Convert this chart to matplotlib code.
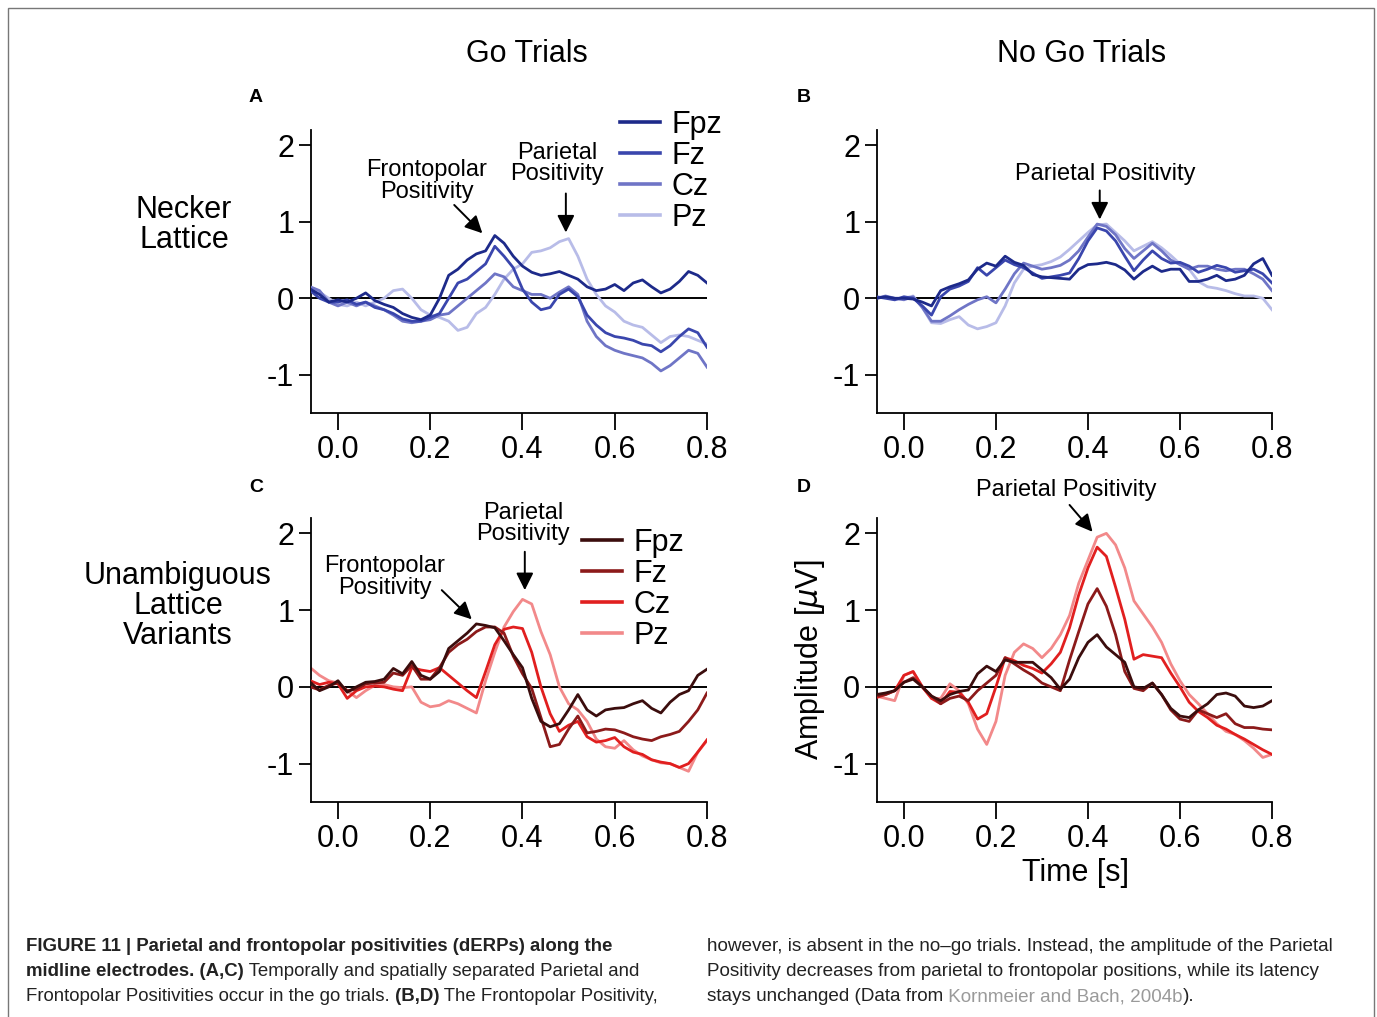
import numpy as np
import matplotlib
matplotlib.use('Agg')
import matplotlib.pyplot as plt
from matplotlib import font_manager as fm
from matplotlib.lines import Line2D
from matplotlib.patches import Rectangle

plt.rcParams['font.family'] = ['Liberation Sans', 'DejaVu Sans']
plt.rcParams['axes.unicode_minus'] = False

# ---------------- data ----------------
time_s = np.round(np.arange(-0.06, 0.8001, 0.02), 2)
electrodes = ['Fpz', 'Fz', 'Cz', 'Pz']
blue_colors = ['#1d2a8a', '#3a46ad', '#6f75c6', '#b8bce8']
red_colors = ['#3b0d0d', '#8c1a1a', '#e11f1f', '#f2898a']

xtick_vals = [0.0, 0.2, 0.4, 0.6, 0.8]
xtick_labels = ['0.0', '0.2', '0.4', '0.6', '0.8']
ytick_vals = [-1, 0, 1, 2]
ytick_labels = ['-1', '0', '1', '2']

# Panel A: Go trials, Necker lattice
a_fpz = [0.12, 0.05, -0.05, -0.02, -0.05, 0.00, 0.07, -0.03, -0.08, -0.12,
         -0.20, -0.25, -0.28, -0.22, 0.00, 0.30, 0.38, 0.50, 0.58, 0.62,
         0.82, 0.72, 0.55, 0.42, 0.34, 0.30, 0.32, 0.35, 0.30, 0.25,
         0.15, 0.10, 0.12, 0.18, 0.10, 0.20, 0.24, 0.15, 0.07, 0.12,
         0.22, 0.35, 0.30, 0.20]
a_fz = [0.10, 0.00, -0.05, -0.05, -0.02, -0.08, -0.05, -0.12, -0.15, -0.20,
        -0.27, -0.30, -0.30, -0.25, -0.20, 0.00, 0.20, 0.25, 0.35, 0.45,
        0.68, 0.55, 0.40, 0.12, -0.05, -0.15, -0.12, 0.05, 0.12, 0.02,
        -0.22, -0.35, -0.45, -0.50, -0.52, -0.55, -0.60, -0.62, -0.70, -0.62,
        -0.50, -0.40, -0.45, -0.64]
a_cz = [0.15, 0.10, -0.05, -0.10, -0.05, -0.10, -0.05, -0.10, -0.15, -0.22,
        -0.30, -0.32, -0.30, -0.28, -0.22, -0.20, -0.10, 0.00, 0.10, 0.20,
        0.32, 0.28, 0.15, 0.10, 0.05, 0.05, 0.00, 0.08, 0.15, 0.05,
        -0.30, -0.50, -0.62, -0.68, -0.72, -0.75, -0.78, -0.85, -0.95, -0.88,
        -0.78, -0.68, -0.72, -0.90]
a_pz = [0.12, 0.08, 0.00, -0.08, -0.10, -0.05, -0.10, -0.05, 0.00, 0.10,
        0.12, 0.00, -0.15, -0.22, -0.25, -0.30, -0.42, -0.38, -0.20, -0.12,
        0.05, 0.25, 0.38, 0.45, 0.60, 0.62, 0.66, 0.74, 0.78, 0.55,
        0.25, 0.05, -0.10, -0.18, -0.30, -0.35, -0.38, -0.48, -0.58, -0.50,
        -0.48, -0.50, -0.55, -0.60]

# Panel B: No-go trials, Necker lattice
b_fpz = [0.00, 0.02, 0.00, 0.00, -0.01, -0.05, -0.10, 0.10, 0.15, 0.19,
         0.24, 0.38, 0.46, 0.42, 0.55, 0.47, 0.43, 0.31, 0.28, 0.27,
         0.26, 0.25, 0.38, 0.44, 0.45, 0.47, 0.44, 0.37, 0.25, 0.35,
         0.42, 0.35, 0.38, 0.38, 0.22, 0.22, 0.25, 0.30, 0.23, 0.25,
         0.30, 0.45, 0.52, 0.30]
b_fz = [0.02, 0.00, -0.02, 0.02, 0.00, -0.10, -0.22, 0.02, 0.12, 0.16,
        0.22, 0.40, 0.30, 0.40, 0.50, 0.44, 0.40, 0.33, 0.26, 0.28,
        0.30, 0.33, 0.52, 0.75, 0.92, 0.88, 0.75, 0.55, 0.36, 0.50,
        0.62, 0.52, 0.46, 0.47, 0.42, 0.34, 0.38, 0.43, 0.40, 0.34,
        0.36, 0.38, 0.32, 0.20]
b_cz = [0.00, 0.03, 0.00, -0.02, 0.02, -0.12, -0.30, -0.30, -0.23, -0.15,
        -0.08, -0.02, 0.02, -0.06, 0.12, 0.32, 0.46, 0.42, 0.38, 0.40,
        0.43, 0.50, 0.62, 0.80, 0.97, 0.94, 0.83, 0.65, 0.52, 0.62,
        0.72, 0.62, 0.50, 0.44, 0.38, 0.42, 0.42, 0.38, 0.36, 0.38,
        0.38, 0.32, 0.25, 0.10]
b_pz = [0.00, 0.02, -0.02, 0.00, 0.03, -0.12, -0.32, -0.33, -0.28, -0.24,
        -0.35, -0.40, -0.37, -0.32, -0.10, 0.20, 0.38, 0.42, 0.44, 0.48,
        0.54, 0.64, 0.75, 0.86, 0.96, 0.97, 0.86, 0.75, 0.62, 0.68,
        0.74, 0.66, 0.56, 0.45, 0.38, 0.22, 0.15, 0.13, 0.10, 0.06,
        0.03, 0.03, 0.00, -0.15]

# Panel C: Go trials, unambiguous variants
c_fpz = [0.06, -0.05, 0.00, 0.08, -0.07, 0.00, 0.06, 0.07, 0.10, 0.24,
         0.17, 0.33, 0.15, 0.10, 0.20, 0.50, 0.60, 0.70, 0.82, 0.80,
         0.77, 0.60, 0.42, 0.25, -0.15, -0.45, -0.52, -0.48, -0.30, -0.10,
         -0.30, -0.38, -0.30, -0.28, -0.27, -0.22, -0.18, -0.28, -0.34, -0.20,
         -0.10, -0.05, 0.15, 0.23]
c_fz = [0.00, -0.04, 0.02, 0.05, -0.05, -0.03, 0.04, 0.05, 0.06, 0.18,
        0.15, 0.28, 0.10, 0.10, 0.25, 0.45, 0.55, 0.62, 0.72, 0.78,
        0.78, 0.70, 0.40, 0.17, -0.02, -0.40, -0.78, -0.75, -0.55, -0.38,
        -0.60, -0.58, -0.55, -0.56, -0.60, -0.65, -0.68, -0.70, -0.65, -0.62,
        -0.58, -0.45, -0.30, -0.08]
c_cz = [0.08, 0.03, 0.06, 0.04, -0.15, -0.05, 0.00, 0.01, 0.00, -0.03,
        -0.05, 0.25, 0.22, 0.20, 0.25, 0.15, 0.05, -0.05, -0.14, 0.20,
        0.55, 0.75, 0.78, 0.76, 0.45, 0.00, -0.35, -0.58, -0.50, -0.45,
        -0.65, -0.72, -0.70, -0.66, -0.78, -0.85, -0.88, -0.95, -0.98, -1.00,
        -1.05, -1.00, -0.85, -0.69]
c_pz = [0.25, 0.15, 0.08, 0.05, -0.05, -0.14, -0.05, 0.02, 0.03, 0.00,
        -0.01, 0.00, -0.20, -0.26, -0.24, -0.18, -0.22, -0.28, -0.34, 0.08,
        0.45, 0.78, 0.98, 1.14, 1.08, 0.72, 0.42, 0.00, -0.22, -0.30,
        -0.45, -0.68, -0.78, -0.80, -0.70, -0.82, -0.90, -0.95, -0.99, -1.00,
        -1.05, -1.10, -0.85, -0.70]

# Panel D: No-go trials, unambiguous variants
d_fpz = [-0.10, -0.08, -0.05, 0.06, 0.10, 0.00, -0.12, -0.18, -0.10, -0.06,
         -0.04, 0.17, 0.27, 0.20, 0.35, 0.32, 0.32, 0.32, 0.22, 0.12,
         -0.03, 0.10, 0.38, 0.58, 0.68, 0.52, 0.42, 0.32, 0.00, -0.02,
         0.05, -0.10, -0.28, -0.38, -0.40, -0.30, -0.22, -0.10, -0.08, -0.12,
         -0.25, -0.27, -0.25, -0.18]
d_fz = [-0.12, -0.10, -0.05, 0.06, 0.12, 0.00, -0.12, -0.22, -0.15, -0.12,
        -0.18, -0.05, 0.05, 0.15, 0.38, 0.30, 0.22, 0.15, 0.05, 0.00,
        -0.05, 0.35, 0.72, 1.08, 1.28, 1.05, 0.68, 0.20, -0.02, -0.05,
        0.05, -0.10, -0.30, -0.42, -0.45, -0.30, -0.35, -0.40, -0.35, -0.48,
        -0.53, -0.53, -0.55, -0.56]
d_cz = [-0.14, -0.10, -0.05, 0.15, 0.20, 0.00, -0.15, -0.22, -0.06, -0.07,
        -0.20, -0.42, -0.35, 0.00, 0.38, 0.34, 0.28, 0.24, 0.18, 0.30,
        0.45, 0.77, 1.20, 1.55, 1.82, 1.70, 1.30, 0.88, 0.36, 0.42,
        0.40, 0.38, 0.18, 0.00, -0.20, -0.32, -0.40, -0.50, -0.55, -0.62,
        -0.68, -0.75, -0.82, -0.88]
d_pz = [-0.12, -0.15, -0.18, 0.15, 0.20, 0.00, -0.15, -0.15, 0.04, -0.05,
        -0.22, -0.55, -0.75, -0.45, 0.15, 0.45, 0.56, 0.50, 0.38, 0.50,
        0.68, 0.93, 1.35, 1.65, 1.95, 2.00, 1.85, 1.55, 1.12, 0.95,
        0.78, 0.58, 0.30, 0.08, -0.10, -0.22, -0.35, -0.48, -0.58, -0.62,
        -0.70, -0.80, -0.92, -0.88]

# ---------------- figure ----------------
W, H = 1377, 1017
fig = plt.figure(figsize=(W / 100, H / 100), dpi=100)
fig.patch.set_facecolor('white')


def fx(x):
    return x / W


def fy(y):
    return 1 - y / H


def make_ax(x0, y0, x1, y1):
    ax = fig.add_axes([fx(x0), fy(y1), (x1 - x0) / W, (y1 - y0) / H])
    ax.set_xlim(-0.0585, 0.8)
    ax.set_ylim(-1.5, 2.2)
    for s in ['top', 'right']:
        ax.spines[s].set_visible(False)
    for s in ['left', 'bottom']:
        ax.spines[s].set_linewidth(1.3)
    ax.set_xticks(xtick_vals)
    ax.set_xticklabels(xtick_labels)
    ax.set_yticks(ytick_vals)
    ax.set_yticklabels(ytick_labels)
    ax.tick_params(axis='x', direction='out', length=12, width=1.3, pad=4,
                   labelsize=22)
    ax.tick_params(axis='y', direction='out', length=9, width=1.3, pad=3,
                   labelsize=22)
    ax.axhline(0, color='black', lw=1.4, zorder=1)
    return ax


def draw_traces(ax, series, colors):
    for i in [3, 2, 1, 0]:
        ax.plot(time_s, series[i], color=colors[i], lw=2.0, zorder=2 + (3 - i),
                solid_joinstyle='round')


axA = make_ax(311, 130, 707, 413)
axB = make_ax(877, 130, 1272, 413)
axC = make_ax(311, 518, 707, 802)
axD = make_ax(877, 518, 1272, 802)

draw_traces(axA, [a_fpz, a_fz, a_cz, a_pz], blue_colors)
draw_traces(axB, [b_fpz, b_fz, b_cz, b_pz], blue_colors)
draw_traces(axC, [c_fpz, c_fz, c_cz, c_pz], red_colors)
draw_traces(axD, [d_fpz, d_fz, d_cz, d_pz], red_colors)


def add_legend(ax, colors, x_px, y_px):
    handles = [Line2D([], [], color=c, lw=2.6) for c in colors]
    ax.legend(handles, electrodes, loc='upper left',
              bbox_to_anchor=(fx(x_px), fy(y_px)),
              bbox_transform=fig.transFigure, frameon=False, fontsize=22,
              handlelength=1.3, handletextpad=0.4, labelspacing=0.03,
              borderpad=0, borderaxespad=0)


add_legend(axA, blue_colors, 620, 110)
add_legend(axC, red_colors, 582, 528)

ann_fs = 17
arrow_kw = dict(arrowstyle='-|>', color='black', lw=1.4, mutation_scale=26,
                shrinkA=0, shrinkB=0)


def note(ax, text, txy, start, tip):
    ax.text(txy[0], txy[1], text, ha='center', va='center', fontsize=ann_fs,
            linespacing=0.98, clip_on=False, zorder=10)
    ax.annotate('', xy=tip, xytext=start, arrowprops=arrow_kw,
                annotation_clip=False, zorder=10)


note(axA, 'Frontopolar\nPositivity', (0.193, 1.53), (0.252, 1.22), (0.313, 0.85))
note(axA, 'Parietal\nPositivity', (0.475, 1.76), (0.494, 1.37), (0.494, 0.86))
note(axB, 'Parietal Positivity', (0.437, 1.62), (0.4256, 1.41), (0.4256, 1.03))
note(axC, 'Frontopolar\nPositivity', (0.102, 1.43), (0.225, 1.26), (0.29, 0.88))
note(axC, 'Parietal\nPositivity', (0.402, 2.13), (0.405, 1.76), (0.405, 1.26))
note(axD, 'Parietal Positivity', (0.352, 2.56), (0.36, 2.37), (0.41, 2.02))

# column / row titles
fig.text(fx(527), fy(54), 'Go Trials', ha='center', va='center', fontsize=22)
fig.text(fx(1082), fy(54), 'No Go Trials', ha='center', va='center', fontsize=22)
fig.text(fx(184), fy(225), 'Necker\nLattice', ha='center', va='center',
         fontsize=22, linespacing=0.98)
fig.text(fx(178), fy(606), 'Unambiguous\nLattice\nVariants', ha='center',
         va='center', fontsize=22, linespacing=0.98)
for letter, (lx, ly) in zip('ABCD', [(256, 97), (804, 97), (256, 488), (804, 488)]):
    fig.text(fx(lx), fy(ly), letter, ha='center', va='center', fontsize=14,
             weight='bold')

fig.text(fx(810), fy(660), 'Amplitude [$\\mu$V]', ha='center', va='center',
         rotation=90, fontsize=22)
fig.text(fx(1075), fy(873), 'Time [s]', ha='center', va='center', fontsize=22)

# border
fig.patches.append(Rectangle((fx(8), -0.02), (1374 - 8) / W, fy(8) + 0.02,
                             transform=fig.transFigure, fill=False,
                             edgecolor='#777777', lw=1.0))

# ---------------- caption ----------------
names = {f.name for f in fm.fontManager.ttflist}
cap_family = 'Liberation Sans Narrow' if 'Liberation Sans Narrow' in names else 'Liberation Sans'
renderer = fig.canvas.get_renderer()
cap_color = '#222222'
link_color = '#9a9a9a'

left_lines = [
    [('FIGURE 11 | Parietal and frontopolar positivities (dERPs) along the', 'bold', cap_color)],
    [('midline electrodes. (A,C)', 'bold', cap_color),
     (' Temporally and spatially separated Parietal and', 'normal', cap_color)],
    [('Frontopolar Positivities occur in the go trials.', 'normal', cap_color),
     (' (B,D)', 'bold', cap_color),
     (' The Frontopolar Positivity,', 'normal', cap_color)],
]
right_lines = [
    [('however, is absent in the no\u2013go trials. Instead, the amplitude of the Parietal', 'normal', cap_color)],
    [('Positivity decreases from parietal to frontopolar positions, while its latency', 'normal', cap_color)],
    [('stays unchanged (Data from', 'normal', cap_color),
     (' Kornmeier and Bach, 2004b', 'normal', link_color),
     (').', 'normal', cap_color)],
]


def measure(text, weight, size):
    t = fig.text(0, 0, text, fontsize=size, weight=weight, family=cap_family)
    w = t.get_window_extent(renderer).width
    t.remove()
    return w


def fit_size(first_line, target):
    w = sum(measure(s, wt, 10) for s, wt, _ in first_line)
    return 10 * target / w


def write_lines(lines, x0, baselines, size):
    for parts, yb in zip(lines, baselines):
        x = x0
        for s, wt, col in parts:
            t = fig.text(fx(x), fy(yb), s, fontsize=size, weight=wt,
                         color=col, family=cap_family, va='baseline')
            x += t.get_window_extent(renderer).width


size_left = fit_size(left_lines[0], 590)
size_right = fit_size(right_lines[0], 630)
write_lines(left_lines, 26, [951, 976, 1001], size_left)
write_lines(right_lines, 707, [951, 976, 1001], size_right)

fig.savefig('out.png', dpi=100, facecolor='white')
